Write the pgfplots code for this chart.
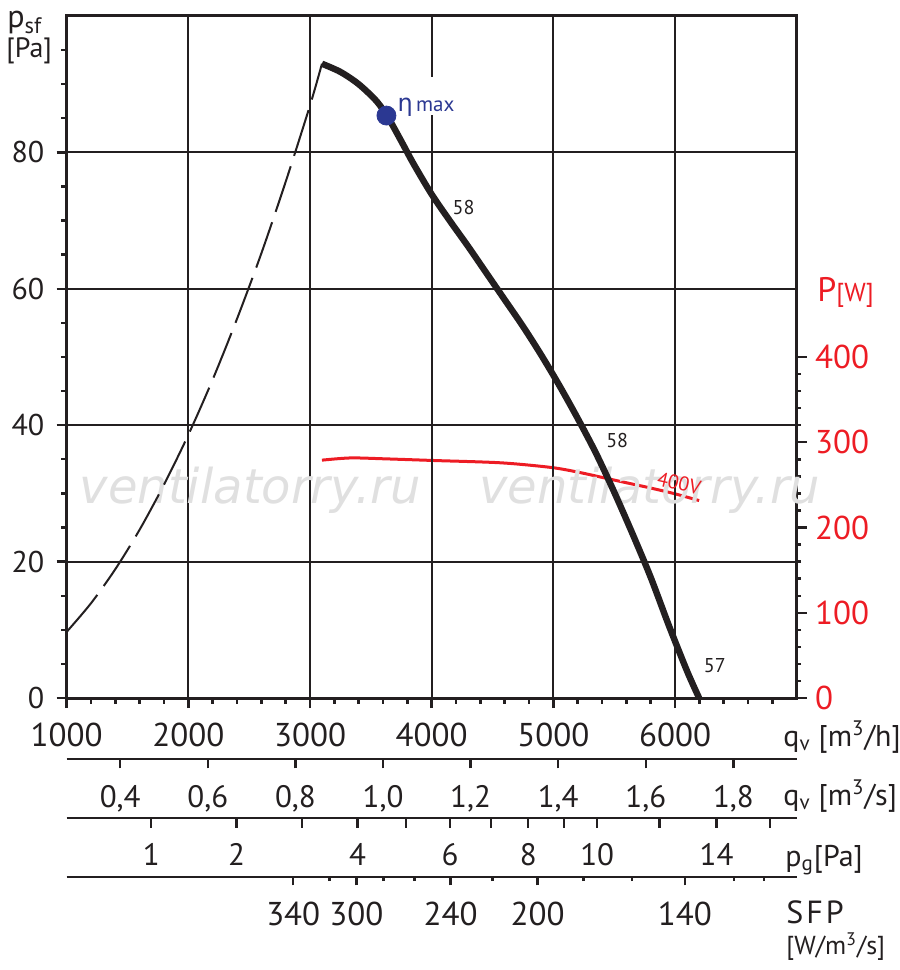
\documentclass[border=0pt]{standalone}
\usepackage{pgfplots}
\pgfplotsset{compat=1.18}
\usepackage{fontspec}
\setmainfont{PT Sans}
\newfontfamily\dejavu{DejaVu Sans}
\definecolor{ink}{RGB}{35,31,32}
\definecolor{pred}{RGB}{237,28,36}
\definecolor{pblue}{RGB}{43,56,146}
\newcommand{\fs}[1]{\fontsize{#1}{#1}\selectfont}
\pgfplotsset{
  base/.style={scale only axis, width=365pt, xmin=1000, xmax=7000,
    axis line style={ink, line width=1.4pt, -},
    every outer x axis line/.append style={-},
    every outer y axis line/.append style={-},
    tick style={ink, line width=1.2pt},
    tick align=outside,
    every tick label/.append style={inner sep=0pt, text=ink},
  },
  scalebar/.style={base, height=1pt, ymin=0, ymax=1,
    axis y line=none, axis x line*=bottom,
    xticklabel style={anchor=north, font=\fs{15.5}}},
}
\begin{document}
\begin{tikzpicture}
\path[use as bounding box] (-33.35pt,-136pt) rectangle (416.65pt,349pt);
% ---------- power axis (right) ----------
\begin{axis}[base, height=341pt, ymin=0, ymax=800,
  axis x line=none, axis y line*=right,
  ytick={0,100,200,300,400}, yticklabels={0,100,200,300,400},
  minor ytick={20,40,...,380},
  major tick length=5pt, minor tick length=2.2pt,
  yticklabel style={anchor=west, text=pred, font=\fs{16.5}},
  yticklabel shift=4pt,
]
\addplot[pred, line width=1.5pt, smooth] coordinates {
(3098,279.0)(3332,281.6)(3606,280.6)(4017,278.6)(4566,275.9)(4978,270.5)
(5200,265.0)(5400,258.8)(5600,252.5)(5800,246.3)(6000,239.5)(6198,231.6)};
\end{axis}
% ---------- pressure axis (main) ----------
\begin{axis}[base, height=341pt, ymin=0, ymax=100,
  axis line style={line width=1.5pt},
  xtick={1000,2000,...,6000}, xticklabels={1000,2000,3000,4000,5000,6000},
  minor xtick={1200,1400,...,6800},
  ytick={0,20,...,80}, yticklabels={0,20,40,60,80},
  minor ytick={5,10,...,95},
  xtick pos=bottom, ytick pos=left,
  major tick length=5pt, minor tick length=2.8pt,
  grid=major, major grid style={ink, line width=0.9pt},
  xticklabel style={anchor=north, font=\fs{16.5}},
  xticklabel shift=7.5pt,
  yticklabel style={anchor=east, font=\fs{15}},
  yticklabel shift=6pt,
  clip=false,
]
\node[text=black!12, font=\dejavu\itshape\fs{24}] at (axis cs:2509,30.5) {ventilatorry.ru};
\node[text=black!12, font=\dejavu\itshape\fs{24}] at (axis cs:5792,30.5) {ventilatorry.ru};
\addplot[ink, line width=1pt, dash pattern=on 24pt off 5.5pt, smooth] coordinates {
(1000,9.7)(1200,13.9)(1400,18.9)(1600,24.7)(1800,31.3)(2000,38.6)(2200,46.7)
(2400,55.6)(2600,65.2)(2800,75.7)(3000,86.9)(3098,93.0)};
\addplot[ink, line width=3.2pt, smooth] coordinates {
(3098,93.0)(3250,91.8)(3400,90.0)(3550,87.45)(3650,84.85)(3750,81.65)(3850,78.35)
(4000,73.85)(4150,69.95)(4300,66.2)(4450,62.3)(4600,58.4)(4750,54.5)(4900,50.3)
(5050,45.8)(5200,41.0)(5350,35.9)(5500,30.2)(5650,24.1)(5800,17.7)(5950,10.6)
(6100,3.9)(6198,0)};
\addplot[only marks, mark=*, mark size=4.75pt, pblue] coordinates {(3628,85.4)};
\node[anchor=base west, fill=white, inner xsep=1pt, inner ysep=0pt,
      text height=17pt, text depth=2pt, text=pblue]
  at (axis cs:3700,86.0) {{\dejavu\fs{12}η}\,{\fs{10.5}max}};
\node[font=\fs{10}, text=ink] at (axis cs:4262,71.9) {58};
\node[font=\fs{10}, text=ink] at (axis cs:5525,37.7) {58};
\node[font=\fs{10}, text=ink] at (axis cs:6327,4.7) {57};
\node[font=\fs{10}, text=pred, rotate=-13] at (axis cs:6033,31.5) {400V};
\end{axis}
% ---------- extra scales ----------
\begin{axis}[scalebar, at={(0pt,-30.5pt)},
  xtick={1440,2160,2880,3600,4320,5040,5760,6480},
  xticklabels={{0,4},{0,6},{0,8},{1,0},{1,2},{1,4},{1,6},{1,8}},
  major tick length=4.7pt, xticklabel shift=8.3pt]
\end{axis}
\begin{axis}[scalebar, at={(0pt,-60pt)},
  xtick={1695,2397,2936,3390,3790,4152,4485,4794,5085,5360,5872,6342,6780},
  xticklabels={1,2,{},4,{},6,{},8,{},10,{},14,{}},
  major tick length=4.8pt, xticklabel shift=7.7pt]
\end{axis}
\begin{axis}[scalebar, at={(0pt,-89.5pt)},
  xtick={2862,3381,4155,4870,6080},
  xticklabels={340,300,240,200,140},
  minor xtick={3159,3603,3858,4500,5249,5644,6484,6731},
  major tick length=4.2pt, minor tick length=2pt, xticklabel shift=8.3pt,
  xticklabel style={font=\fs{16.5}}]
\end{axis}
% ---------- axis titles ----------
\node[anchor=base west, inner sep=0pt, text=ink, font=\fs{16}] at (-29.85pt,335pt) {p\textsubscript{sf}};
\node[anchor=west, inner sep=0pt, text=ink, font=\fs{14}] at (-30.35pt,323.5pt) {[Pa]};
\node[anchor=base west, inner sep=0pt, text=pred] at (375.15pt,198pt) {{\fs{17}P}{\fs{13}[W]}};
\node[anchor=base west, inner sep=0pt, text=ink, font=\fs{15}] at (358.15pt,-24pt) {q\textsubscript{v} [m\textsuperscript{3}/h]};
\node[anchor=base west, inner sep=0pt, text=ink, font=\fs{15}] at (358.15pt,-53.5pt) {q\textsubscript{v} [m\textsuperscript{3}/s]};
\node[anchor=base west, inner sep=0pt, text=ink, font=\fs{15}] at (359.15pt,-84pt) {p\textsubscript{g}[Pa]};
\node[anchor=base west, inner sep=0pt, text=ink, font=\fs{16}] at (359.65pt,-112.7pt) {S\kern1.5pt F\kern1.5pt P};
\node[anchor=base west, inner sep=0pt, text=ink, font=\fs{13}] at (359.65pt,-128pt) {[W/m\textsuperscript{3}/s]};
\end{tikzpicture}
\end{document}
